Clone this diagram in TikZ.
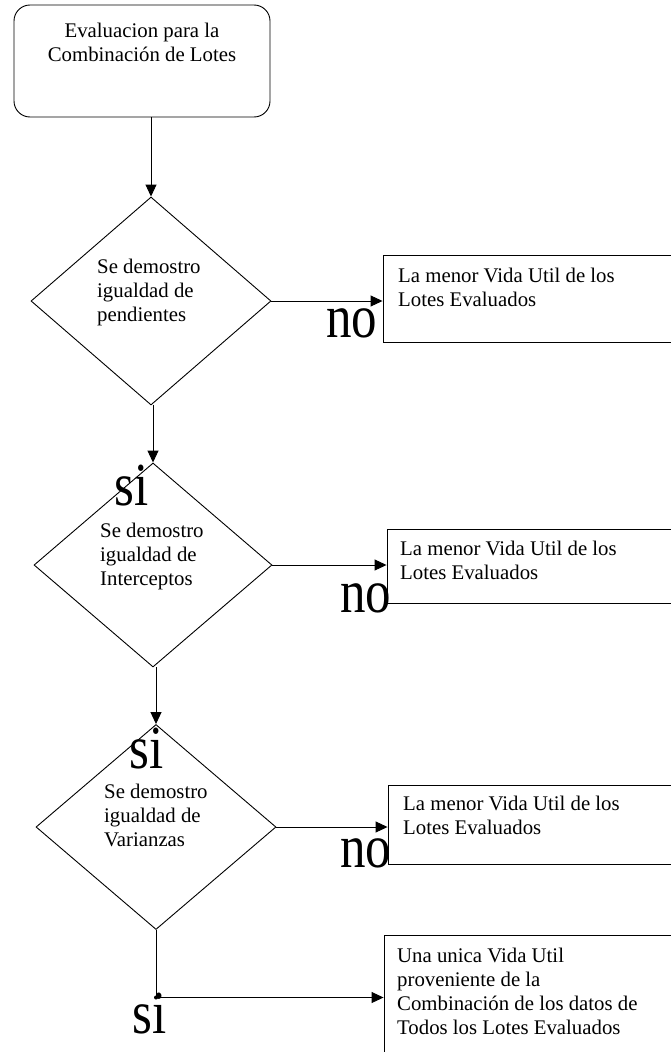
\documentclass[tikz,border=0pt]{standalone}
\usepackage{fontspec}
\setmainfont{Liberation Serif}
\usetikzlibrary{shapes.geometric,arrows.meta}
\tikzset{
  txt/.style={font=\fontsize{20.8}{24}\selectfont, inner sep=0pt, align=left, anchor=north west},
  big/.style={font=\fontsize{51}{51}\selectfont, inner sep=0pt, anchor=base west},
  dec/.style={draw, shape=diamond, inner sep=0pt, line width=0.9pt},
  outbox/.style={draw, rectangle, inner sep=0pt, line width=0.9pt},
  conn/.style={line width=0.9pt, -{Triangle[length=12pt,width=11pt]}},
}
\begin{document}
\begin{tikzpicture}[x=1pt,y=-1pt]
\useasboundingbox (0,0) rectangle (671,1052);
\clip (0,0) rectangle (671,1052);
\fill[white] (0,0) rectangle (671,1052);
% start box
\node[outbox, rounded corners=16pt, minimum width=256pt, minimum height=112pt] (S) at (142,61) {};
\node[txt, anchor=north, align=center] (St) at (142,23) {Evaluacion para la\\Combinación de Lotes};
% diamonds
\node[dec, minimum width=240pt, minimum height=208pt] (D1) at (151,301) {};
\node[dec, minimum width=238pt, minimum height=204pt] (D2) at (153,565) {};
\node[dec, minimum width=240pt, minimum height=205pt] (D3) at (156,827) {};
\node[txt] (D1t) at (97,259) {Se demostro\\igualdad de\\pendientes};
\node[txt] (D2t) at (100,523) {Se demostro\\igualdad de\\Interceptos};
\node[txt] (D3t) at (104,784) {Se demostro\\igualdad de\\Varianzas};
% output boxes
\node[outbox, minimum width=317pt, minimum height=87pt] (B1) at (541.5,298.5) {};
\node[outbox, minimum width=313pt, minimum height=74pt] (B2) at (543.5,566) {};
\node[outbox, minimum width=312pt, minimum height=79pt] (B3) at (544,824.5) {};
\node[outbox, minimum width=316pt, minimum height=125pt] (B4) at (542,997.5) {};
\node[txt] (B1t) at (398,268) {La menor Vida Util de los\\Lotes Evaluados};
\node[txt] (B2t) at (400,541) {La menor Vida Util de los\\Lotes Evaluados};
\node[txt] (B3t) at (403,796) {La menor Vida Util de los\\Lotes Evaluados};
\node[txt] (B4t) at (397,948) {Una unica Vida Util\\proveniente de la\\Combinación de los datos de\\Todos los Lotes Evaluados};
% connectors
\draw[conn] (D1.north |- S.south) -- (D1.north);
\draw[conn] (D2.north |- D1.south) -- (D2.north);
\draw[conn] (D3.north |- D2.south) -- (D3.north);
\draw[conn] (D1.east) -- (D1.east -| B1.west);
\draw[conn] (D2.east) -- (D2.east -| B2.west);
\draw[conn] (D3.east) -- (D3.east -| B3.west);
\coordinate (J) at (D3.south |- B4.west);
\draw[conn] (D3.south) -- (J) -- (B4.west);
\fill (J) circle (2pt);
% labels
\node[big] (n1) at (326,337) {\scalebox{1}[1.2]{no}};
\node[big] (n2) at (340,612) {\scalebox{1}[1.2]{no}};
\node[big] (n3) at (340,867) {\scalebox{1}[1.2]{no}};
\node[big] (s1) at (114,505) {\scalebox{1}[1.2]{si}};
\node[big] (s2) at (129,768) {\scalebox{1}[1.2]{si}};
\node[big] (s3) at (132,1033) {\scalebox{1}[1.2]{si}};
\end{tikzpicture}
\end{document}
